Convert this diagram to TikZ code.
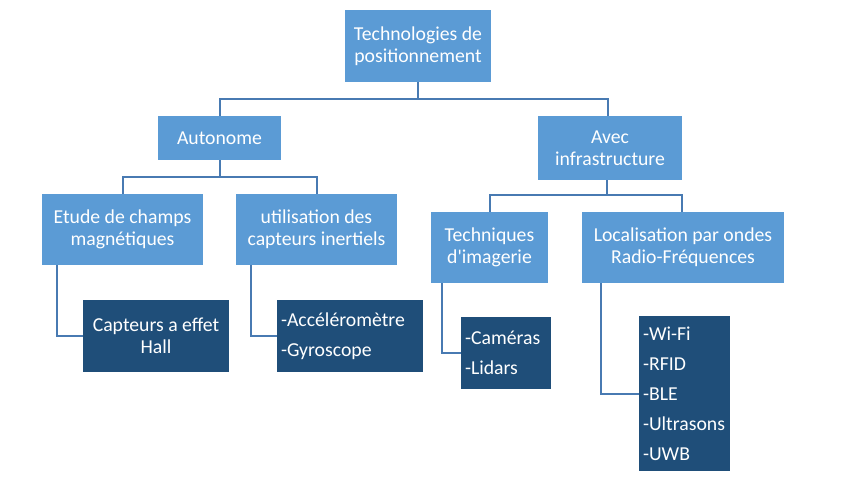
\documentclass[tikz,border=0pt]{standalone}
\usepackage{fontspec}
\setmainfont{Carlito}
\usepackage{tikz}
\usetikzlibrary{positioning}
\definecolor{boxlight}{HTML}{5B9BD5}
\definecolor{boxdark}{HTML}{1F4E79}
\definecolor{linkblue}{RGB}{72,122,178}
\tikzset{%
    lightbox/.style={%
        fill=boxlight, text=white, inner sep=0pt, align=center,
        font=\fontsize{14.8}{16.5}\selectfont
    },
    darkbox/.style={%
        fill=boxdark, text=white, inner sep=0pt, align=center,
        font=\fontsize{14.8}{16.5}\selectfont
    },
    listbox/.style={%
        fill=boxdark, text=white, inner xsep=3pt, inner ysep=0pt, align=left,
        font=\fontsize{14.8}{22.5}\selectfont
    },
    link/.style={%
        draw=linkblue, line width=1.5pt
    }
}

\begin{document}
\begin{tikzpicture}[x=0.75pt, y=-0.75pt]
    \useasboundingbox (0,0) rectangle (842,494);

    \node[lightbox, minimum width=109.5pt, minimum height=54pt] (tech) at (418,46) {Technologies de\\positionnement};

    \node[lightbox, minimum width=92.25pt, minimum height=33pt] (auto) at (219.5,138) {Autonome};
    \node[lightbox, minimum width=108pt, minimum height=48pt] (infra) at (610,148) {Avec\\infrastructure};

    \node[lightbox, minimum width=120.75pt, minimum height=53.25pt] (magn) at (122.5,229.5) {Etude de champs\\magnétiques};
    \node[lightbox, minimum width=120.75pt, minimum height=53.25pt] (inert) at (316.5,229.5) {utilisation des\\capteurs inertiels};
    \node[lightbox, minimum width=87.75pt, minimum height=53.25pt] (image) at (489.5,247.5) {Techniques\\d\textquotesingle imagerie};
    \node[lightbox, minimum width=151.5pt, minimum height=53.25pt] (radio) at (683,247.5) {Localisation par ondes\\Radio-Fréquences};

    \node[darkbox, minimum width=109.5pt, minimum height=54pt] (hall) at (156,336) {Capteurs a effet\\Hall};
    \node[listbox, text width=103.5pt, minimum height=54pt] (accel) at (350,336) {-Accéléromètre\\-Gyroscope};
    \node[listbox, text width=61.5pt, minimum height=54pt] (camera) at (506,353) {-Caméras\\-Lidars};
    \node[listbox, text width=62.25pt, minimum height=116.25pt] (wifi) at (684.5,393.5) {-Wi-Fi\\-RFID\\-BLE\\-Ultrasons\\-UWB};

    % tree links
    \draw[link] (tech.south) -- ++(0,17) -| (auto.north);
    \draw[link] (tech.south) ++(0,17) -| ([xshift=-1.5pt]infra.north);
    \draw[link] (auto.south) -- ++(0,17) -| (magn.north);
    \draw[link] (auto.south) ++(0,17) -| (inert.north);
    \draw[link] ([xshift=-2.25pt]infra.south) -- ++(0,15) -| (image.north);
    \draw[link] ([xshift=-2.25pt]infra.south) ++(0,15) -| ([xshift=-0.75pt]radio.north);

    % side links
    \draw[link] ([xshift=11.25pt]magn.south west) |- (hall.west);
    \draw[link] ([xshift=11.25pt]inert.south west) |- (accel.west);
    \draw[link] ([xshift=8.25pt]image.south west) |- (camera.west);
    \draw[link] ([xshift=14.25pt]radio.south west) |- (wifi.west);
\end{tikzpicture}
\end{document}
